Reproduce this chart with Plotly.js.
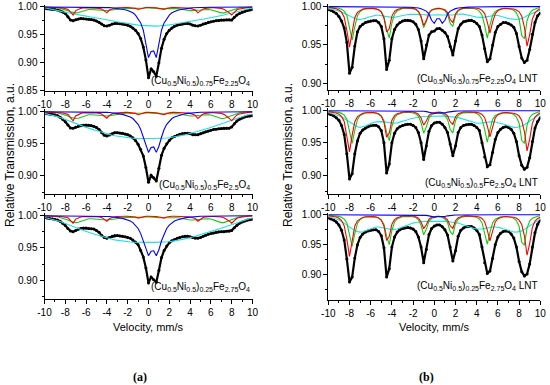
<!DOCTYPE html>
<html><head><meta charset="utf-8">
<script src="https://cdn.plot.ly/plotly-3.0.1.min.js"></script>
<style>html,body{margin:0;padding:0;background:#fff}#chart{width:550px;height:385px}</style>
</head><body><div id="chart"></div>
<script>
// Velocity grid, mm/s
const vel = [-10,-9.75,-9.5,-9.25,-9,-8.75,-8.5,-8.25,
-8,-7.75,-7.5,-7.25,-7,-6.75,-6.5,-6.25,
-6,-5.75,-5.5,-5.25,-5,-4.75,-4.5,-4.25,
-4,-3.75,-3.5,-3.25,-3,-2.75,-2.5,-2.25,
-2,-1.75,-1.5,-1.25,-1,-0.75,-0.5,-0.25,
0,0.25,0.5,0.75,1,1.25,1.5,1.75,
2,2.25,2.5,2.75,3,3.25,3.5,3.75,
4,4.25,4.5,4.75,5,5.25,5.5,5.75,
6,6.25,6.5,6.75,7,7.25,7.5,7.75,
8,8.25,8.5,8.75,9,9.25,9.5,9.75,10];

const xTickVals = [-10,-8,-6,-4,-2,0,2,4,6,8,10];
const xTickText = ['-10','-8','-6','-4','-2','0','2','4','6','8','10'];

// ---------- (a) room temperature ----------
const a1Black = [0.997,0.9965,0.996,0.9955,0.995,0.994,0.9925,0.9905,
0.988,0.982,0.976,0.975,0.9765,0.978,0.979,0.9785,
0.978,0.9775,0.977,0.976,0.9745,0.972,0.969,0.966,
0.9655,0.967,0.969,0.970,0.970,0.9695,0.969,0.968,
0.967,0.965,0.962,0.958,0.952,0.943,0.928,0.905,
0.873,0.889,0.884,0.876,0.900,0.926,0.942,0.952,
0.958,0.962,0.965,0.967,0.968,0.969,0.970,0.970,
0.969,0.967,0.966,0.9655,0.967,0.969,0.9705,0.972,
0.973,0.974,0.975,0.9755,0.976,0.976,0.9765,0.9765,
0.976,0.981,0.985,0.988,0.990,0.992,0.993,0.994,0.995];
const a1Red = [0.999,0.999,0.999,0.999,0.999,0.9985,0.998,0.9975,
0.997,0.9955,0.9905,0.985,0.993,0.9955,0.997,0.998,
0.998,0.9985,0.9985,0.998,0.9975,0.997,0.996,0.9925,
0.989,0.994,0.9965,0.9975,0.998,0.9985,0.9985,0.9985,
0.9985,0.998,0.9975,0.997,0.995,0.9965,0.998,0.9985,
0.9985,0.9985,0.9985,0.998,0.997,0.996,0.995,0.997,
0.998,0.9985,0.9985,0.9985,0.9985,0.9985,0.998,0.9975,
0.997,0.996,0.994,0.989,0.993,0.996,0.997,0.998,
0.998,0.998,0.998,0.9975,0.997,0.9955,0.993,0.9895,
0.985,0.9905,0.9945,0.996,0.997,0.998,0.9985,0.999,0.999];
const a1Green = [0.9995,0.9995,0.999,0.999,0.9985,0.998,0.997,0.996,
0.9945,0.993,0.991,0.9895,0.989,0.9895,0.991,0.993,
0.9945,0.995,0.995,0.9945,0.994,0.9935,0.993,0.993,
0.993,0.9935,0.994,0.995,0.996,0.9965,0.997,0.997,
0.9975,0.997,0.997,0.9965,0.9965,0.997,0.9975,0.998,
0.998,0.998,0.9975,0.997,0.9965,0.9965,0.9965,0.997,
0.9975,0.9975,0.997,0.9965,0.996,0.995,0.994,0.9935,
0.993,0.993,0.993,0.9935,0.994,0.9945,0.995,0.995,
0.9945,0.993,0.991,0.9895,0.989,0.989,0.9905,0.9925,
0.9945,0.996,0.997,0.998,0.9985,0.999,0.9993,0.9995,0.9995];
const a1Blue = [0.9995,0.9995,0.9995,0.9995,0.9995,0.9995,0.9995,0.9995,
0.9994,0.9994,0.9994,0.9993,0.9993,0.9993,0.9992,0.9992,
0.9991,0.9991,0.999,0.999,0.999,0.9989,0.9988,0.9987,
0.9985,0.9983,0.998,0.9975,0.997,0.9963,0.9955,0.9945,
0.993,0.9915,0.989,0.985,0.979,0.971,0.958,0.935,
0.909,0.920,0.921,0.909,0.935,0.958,0.971,0.979,
0.985,0.989,0.9915,0.993,0.9945,0.9955,0.9963,0.997,
0.9975,0.998,0.9983,0.9985,0.9987,0.9988,0.9989,0.999,
0.999,0.999,0.9991,0.9991,0.9992,0.9992,0.9993,0.9993,
0.9993,0.9994,0.9994,0.9994,0.9995,0.9995,0.9995,0.9995,0.9995];
const a1Cyan = [0.998,0.9972,0.9963,0.9954,0.9945,0.9933,0.9921,0.991,
0.99,0.9891,0.9882,0.9873,0.9865,0.9856,0.9847,0.9838,
0.983,0.9822,0.9815,0.9808,0.98,0.9793,0.9785,0.9778,
0.977,0.976,0.975,0.974,0.973,0.9721,0.9712,0.9703,
0.9695,0.9688,0.9682,0.9676,0.967,0.9666,0.9662,0.9658,
0.9655,0.9653,0.9652,0.9652,0.9655,0.9658,0.9662,0.9668,
0.9675,0.9683,0.9692,0.9701,0.971,0.9719,0.9728,0.9737,
0.9745,0.9751,0.9757,0.9763,0.977,0.9777,0.9785,0.9792,
0.98,0.981,0.982,0.983,0.984,0.9852,0.9865,0.9877,
0.989,0.9902,0.9915,0.9927,0.994,0.995,0.996,0.9967,0.997];

const a2Black = [0.997,0.9965,0.996,0.9955,0.995,0.9935,0.991,0.988,
0.984,0.979,0.9745,0.974,0.9755,0.977,0.978,0.9785,
0.979,0.9785,0.978,0.977,0.975,0.972,0.967,0.963,
0.962,0.9635,0.9655,0.967,0.967,0.9665,0.966,0.965,
0.964,0.962,0.959,0.955,0.949,0.941,0.931,0.913,
0.890,0.901,0.897,0.892,0.912,0.932,0.943,0.950,
0.955,0.959,0.961,0.963,0.9645,0.9655,0.966,0.966,
0.9655,0.964,0.9637,0.964,0.9655,0.967,0.9685,0.9695,
0.971,0.972,0.9725,0.973,0.9735,0.974,0.974,0.974,
0.976,0.981,0.985,0.988,0.990,0.9915,0.9925,0.993,0.9935];
const a2Red = [0.999,0.999,0.999,0.999,0.999,0.9985,0.998,0.9975,
0.997,0.9955,0.9905,0.9855,0.993,0.9955,0.997,0.998,
0.998,0.9985,0.9985,0.998,0.9975,0.997,0.996,0.9925,
0.9895,0.994,0.9965,0.9975,0.998,0.9985,0.9985,0.9985,
0.9985,0.998,0.9975,0.997,0.995,0.9965,0.998,0.9985,
0.9985,0.9985,0.9985,0.998,0.997,0.996,0.995,0.997,
0.998,0.9985,0.9985,0.9985,0.9985,0.9985,0.998,0.9975,
0.997,0.996,0.994,0.989,0.993,0.996,0.997,0.998,
0.998,0.998,0.998,0.9975,0.997,0.9955,0.993,0.9895,
0.9855,0.9905,0.9945,0.996,0.997,0.998,0.9985,0.999,0.999];
const a2Green = [0.9995,0.9995,0.999,0.999,0.9985,0.998,0.997,0.996,
0.9945,0.993,0.991,0.9895,0.989,0.9895,0.991,0.993,
0.9945,0.995,0.995,0.9945,0.994,0.9935,0.993,0.993,
0.993,0.9935,0.994,0.995,0.996,0.9965,0.997,0.997,
0.9975,0.997,0.997,0.9965,0.9965,0.997,0.9975,0.998,
0.998,0.998,0.9975,0.997,0.9965,0.9965,0.9965,0.997,
0.9975,0.9975,0.997,0.9965,0.996,0.995,0.994,0.9935,
0.993,0.993,0.993,0.9935,0.994,0.9945,0.995,0.995,
0.9945,0.993,0.991,0.9895,0.989,0.989,0.9905,0.9925,
0.9945,0.996,0.997,0.998,0.9985,0.999,0.9993,0.9995,0.9995];
const a2Blue = [0.9995,0.9995,0.9995,0.9995,0.9995,0.9995,0.9995,0.9995,
0.9994,0.9994,0.9994,0.9993,0.9993,0.9993,0.9992,0.9992,
0.9991,0.9991,0.999,0.999,0.999,0.9989,0.9988,0.9987,
0.9985,0.9983,0.998,0.9975,0.997,0.9963,0.9955,0.9945,
0.993,0.9915,0.989,0.985,0.980,0.972,0.960,0.946,
0.9365,0.944,0.945,0.9365,0.946,0.960,0.972,0.980,
0.985,0.989,0.9915,0.993,0.9945,0.9955,0.9963,0.997,
0.9975,0.998,0.9983,0.9985,0.9987,0.9988,0.9989,0.999,
0.999,0.999,0.9991,0.9991,0.9992,0.9992,0.9993,0.9993,
0.9993,0.9994,0.9994,0.9994,0.9995,0.9995,0.9995,0.9995,0.9995];
const a2Cyan = [0.997,0.9962,0.9953,0.9943,0.9932,0.992,0.9907,0.9893,
0.9879,0.9864,0.9849,0.9834,0.9818,0.9801,0.9784,0.9767,
0.9751,0.9737,0.9725,0.9714,0.9703,0.969,0.9677,0.9664,
0.9651,0.9641,0.9632,0.9624,0.9617,0.961,0.9603,0.9597,
0.9591,0.9587,0.9584,0.9582,0.958,0.958,0.958,0.958,
0.958,0.958,0.958,0.958,0.958,0.958,0.9583,0.9587,
0.9592,0.9598,0.9605,0.9612,0.962,0.9628,0.9637,0.9647,
0.9657,0.9668,0.968,0.9692,0.9704,0.9716,0.9728,0.974,
0.9752,0.9765,0.9778,0.9792,0.9806,0.9821,0.9836,0.9851,
0.9866,0.988,0.9894,0.9908,0.9921,0.9933,0.9944,0.9954,0.9962];

const a3Black = [0.9965,0.996,0.9955,0.995,0.994,0.993,0.991,0.988,
0.9845,0.980,0.976,0.975,0.977,0.979,0.980,0.9805,
0.9805,0.980,0.9795,0.979,0.977,0.974,0.969,0.966,
0.965,0.966,0.968,0.969,0.969,0.9685,0.968,0.967,
0.966,0.965,0.962,0.959,0.955,0.946,0.936,0.919,
0.896,0.905,0.901,0.897,0.915,0.935,0.946,0.953,
0.958,0.961,0.963,0.965,0.966,0.967,0.968,0.968,
0.967,0.966,0.965,0.965,0.966,0.968,0.9695,0.971,
0.972,0.973,0.974,0.975,0.975,0.975,0.9755,0.9755,
0.977,0.981,0.985,0.988,0.990,0.9915,0.993,0.9935,0.994];
const a3Red = [0.9992,0.9992,0.9992,0.9992,0.9992,0.9988,0.9984,0.998,
0.9976,0.9964,0.9924,0.988,0.9944,0.9964,0.9976,0.9984,
0.9984,0.9988,0.9988,0.9984,0.998,0.9976,0.9968,0.994,
0.9912,0.9952,0.9972,0.998,0.9984,0.9988,0.9988,0.9988,
0.9988,0.9984,0.998,0.9976,0.996,0.9972,0.9984,0.9988,
0.9988,0.9988,0.9988,0.9984,0.9976,0.9968,0.996,0.9976,
0.9984,0.9988,0.9988,0.9988,0.9988,0.9988,0.9984,0.998,
0.9976,0.9968,0.9952,0.9912,0.9944,0.9968,0.9976,0.9984,
0.9984,0.9984,0.9984,0.998,0.9976,0.9964,0.9944,0.9916,
0.988,0.9924,0.9956,0.9968,0.9976,0.9984,0.9988,0.9992,0.9992];
const a3Green = [0.9995,0.9995,0.999,0.999,0.9985,0.998,0.997,0.996,
0.9945,0.993,0.991,0.9895,0.989,0.9895,0.991,0.993,
0.9945,0.995,0.995,0.9945,0.994,0.9935,0.993,0.993,
0.993,0.9935,0.994,0.995,0.996,0.9965,0.997,0.997,
0.9975,0.997,0.997,0.9965,0.9965,0.997,0.9975,0.998,
0.998,0.998,0.9975,0.997,0.9965,0.9965,0.9965,0.997,
0.9975,0.9975,0.997,0.9965,0.996,0.995,0.994,0.9935,
0.993,0.993,0.993,0.9935,0.994,0.9945,0.995,0.995,
0.9945,0.993,0.991,0.9895,0.989,0.989,0.9905,0.9925,
0.9945,0.996,0.997,0.998,0.9985,0.999,0.9993,0.9995,0.9995];
const a3Blue = [0.9995,0.9995,0.9995,0.9995,0.9995,0.9995,0.9995,0.9995,
0.9994,0.9994,0.9994,0.9993,0.9993,0.9993,0.9992,0.9992,
0.9991,0.9991,0.999,0.999,0.999,0.9989,0.9988,0.9987,
0.9985,0.9983,0.998,0.9975,0.997,0.9963,0.9955,0.9945,
0.993,0.9915,0.989,0.985,0.980,0.972,0.961,0.947,
0.938,0.945,0.9456,0.938,0.947,0.961,0.972,0.980,
0.985,0.989,0.9915,0.993,0.9945,0.9955,0.9963,0.997,
0.9975,0.998,0.9983,0.9985,0.9987,0.9988,0.9989,0.999,
0.999,0.999,0.9991,0.9991,0.9992,0.9992,0.9993,0.9993,
0.9993,0.9994,0.9994,0.9994,0.9995,0.9995,0.9995,0.9995,0.9995];
const a3Cyan = [0.997,0.9962,0.9953,0.9943,0.9932,0.992,0.9907,0.9893,
0.9879,0.9864,0.9849,0.9834,0.9818,0.9801,0.9784,0.9767,
0.9751,0.9737,0.9725,0.9714,0.9703,0.969,0.9677,0.9664,
0.9651,0.9641,0.9632,0.9624,0.9617,0.961,0.9603,0.9598,
0.9593,0.959,0.9588,0.9586,0.9585,0.9585,0.9585,0.9585,
0.9585,0.9585,0.9585,0.9585,0.9585,0.9585,0.9587,0.959,
0.9594,0.96,0.9606,0.9613,0.962,0.9628,0.9637,0.9647,
0.9657,0.9668,0.968,0.9692,0.9704,0.9716,0.9728,0.974,
0.9752,0.9765,0.9778,0.9792,0.9806,0.9821,0.9836,0.9851,
0.9866,0.988,0.9894,0.9908,0.9921,0.9933,0.9944,0.9954,0.9962];

// ---------- (b) liquid nitrogen temperature ----------
const b1Black = [0.9957,0.995,0.993,0.991,0.987,0.981,0.972,0.953,
0.913,0.921,0.9485,0.967,0.974,0.977,0.979,0.980,
0.981,0.9815,0.9815,0.979,0.974,0.958,0.918,0.930,
0.958,0.970,0.976,0.979,0.981,0.982,0.982,0.9815,
0.980,0.977,0.970,0.955,0.932,0.950,0.963,0.967,
0.968,0.971,0.9715,0.969,0.966,0.961,0.948,0.937,
0.955,0.971,0.977,0.980,0.981,0.982,0.982,0.9805,
0.978,0.974,0.963,0.945,0.928,0.932,0.950,0.966,
0.974,0.977,0.979,0.979,0.978,0.976,0.973,0.965,
0.948,0.933,0.927,0.930,0.944,0.964,0.979,0.988,0.9915];
const b1Red = [0.9987,0.9984,0.998,0.997,0.9955,0.9926,0.986,0.969,
0.947,0.9687,0.9857,0.9923,0.995,0.9966,0.9973,0.9976,
0.9976,0.9975,0.9969,0.9957,0.9927,0.985,0.967,0.971,
0.9875,0.9935,0.996,0.9974,0.998,0.9982,0.9983,0.9981,
0.9976,0.9965,0.9938,0.9872,0.975,0.982,0.9919,0.9956,
0.997,0.9976,0.9977,0.9971,0.9957,0.992,0.983,0.979,
0.9907,0.9953,0.9971,0.998,0.9983,0.9984,0.9983,0.9981,
0.9977,0.997,0.995,0.9907,0.9797,0.9653,0.9796,0.9905,
0.9947,0.9965,0.9973,0.9976,0.9976,0.9974,0.9967,0.9955,
0.9931,0.9875,0.9732,0.9484,0.9634,0.9836,0.9918,0.9952,0.9969];
const b1Green = [0.9992,0.999,0.9988,0.9983,0.9977,0.9964,0.994,0.9885,
0.9743,0.9562,0.9739,0.988,0.9935,0.9958,0.9969,0.9973,
0.9975,0.9973,0.9967,0.9956,0.993,0.9866,0.9706,0.959,
0.9787,0.99,0.9944,0.9963,0.9973,0.9977,0.9979,0.9977,
0.9972,0.996,0.9931,0.9856,0.9726,0.9803,0.9908,0.9951,
0.9966,0.9971,0.9972,0.9965,0.9945,0.9898,0.978,0.974,
0.9883,0.9941,0.9964,0.9974,0.9978,0.9979,0.9977,0.9973,
0.9962,0.994,0.9888,0.9755,0.9587,0.9754,0.9886,0.9937,
0.9959,0.997,0.9973,0.9974,0.9972,0.9965,0.995,0.9918,
0.9838,0.962,0.958,0.9815,0.9912,0.9952,0.997,0.9979,0.9985];
const b1Blue = [0.9998,0.9998,0.9998,0.9998,0.9998,0.9998,0.9998,0.9998,
0.9998,0.9998,0.9998,0.9998,0.9998,0.9998,0.9998,0.9998,
0.9998,0.9998,0.9998,0.9998,0.9998,0.9998,0.9997,0.9997,
0.9997,0.9997,0.9997,0.9996,0.9995,0.9994,0.9992,0.999,
0.9987,0.9985,0.998,0.997,0.9958,0.994,0.990,0.982,
0.978,0.984,0.984,0.978,0.982,0.990,0.994,0.996,
0.9972,0.998,0.9985,0.9988,0.999,0.9992,0.9994,0.9995,
0.9996,0.9997,0.9997,0.9997,0.9998,0.9998,0.9998,0.9998,
0.9998,0.9998,0.9998,0.9998,0.9998,0.9998,0.9998,0.9998,
0.9998,0.9998,0.9998,0.9998,0.9998,0.9998,0.9998,0.9998,0.9998];
const b1Cyan = [0.997,0.9965,0.996,0.995,0.994,0.9925,0.991,0.989,
0.987,0.9855,0.984,0.983,0.983,0.9835,0.9845,0.986,
0.987,0.988,0.9885,0.9885,0.988,0.9875,0.987,0.986,
0.9858,0.986,0.9868,0.9877,0.9885,0.989,0.9895,0.9898,
0.99,0.99,0.9898,0.9895,0.989,0.9888,0.9888,0.989,
0.9893,0.9895,0.9893,0.989,0.9888,0.9887,0.9888,0.989,
0.9895,0.99,0.9902,0.99,0.9895,0.9888,0.988,0.987,
0.9862,0.9858,0.9858,0.9862,0.987,0.9878,0.9883,0.9885,
0.9882,0.9875,0.9865,0.9853,0.9842,0.9835,0.983,0.983,
0.9835,0.9845,0.986,0.9878,0.9895,0.991,0.9925,0.994,0.995];

const b2Black = [0.995,0.994,0.992,0.989,0.985,0.977,0.963,0.933,
0.894,0.902,0.933,0.953,0.965,0.970,0.973,0.975,
0.9765,0.9775,0.9775,0.975,0.969,0.950,0.903,0.917,
0.950,0.965,0.972,0.975,0.977,0.978,0.979,0.979,
0.977,0.974,0.966,0.950,0.924,0.945,0.968,0.977,
0.981,0.982,0.982,0.979,0.974,0.966,0.948,0.930,
0.945,0.966,0.974,0.977,0.978,0.979,0.979,0.977,
0.974,0.969,0.950,0.928,0.913,0.916,0.935,0.955,
0.966,0.971,0.974,0.975,0.974,0.971,0.965,0.952,
0.930,0.915,0.909,0.912,0.927,0.952,0.973,0.983,0.989];
const b2Red = [0.9984,0.9981,0.9976,0.9964,0.9946,0.991,0.9831,0.9625,
0.936,0.9621,0.9827,0.9907,0.994,0.9959,0.9967,0.9971,
0.9971,0.997,0.9963,0.9948,0.9912,0.982,0.9588,0.9652,
0.985,0.9922,0.9952,0.9969,0.9976,0.9981,0.9985,0.9983,
0.9978,0.9968,0.9944,0.9885,0.9775,0.9838,0.9927,0.996,
0.9971,0.9976,0.9977,0.997,0.9956,0.9918,0.9827,0.9786,
0.9905,0.9952,0.997,0.9978,0.998,0.9981,0.998,0.9978,
0.9973,0.9965,0.9941,0.9891,0.9762,0.9594,0.9761,0.9889,
0.9938,0.9958,0.9967,0.9971,0.9971,0.9969,0.996,0.9946,
0.9917,0.9849,0.9676,0.9376,0.9557,0.9802,0.9901,0.9942,0.9962];
const b2Green = [0.9991,0.9988,0.9986,0.998,0.9973,0.9958,0.993,0.9867,
0.9702,0.9492,0.9697,0.9861,0.9925,0.9951,0.9964,0.9969,
0.9971,0.9969,0.9962,0.995,0.992,0.9847,0.9665,0.9533,
0.9757,0.9886,0.9936,0.9957,0.9968,0.9971,0.9973,0.9971,
0.9964,0.9949,0.9912,0.9816,0.9649,0.9748,0.9882,0.9937,
0.9956,0.9962,0.9963,0.9953,0.9927,0.9864,0.9707,0.9654,
0.9844,0.9922,0.9952,0.9966,0.9972,0.9975,0.9973,0.9968,
0.9955,0.9929,0.9867,0.9708,0.9509,0.9707,0.9864,0.9925,
0.9951,0.9964,0.9967,0.9969,0.9966,0.9958,0.9939,0.9901,
0.9804,0.954,0.9492,0.9776,0.9894,0.9942,0.9964,0.9975,0.9982];
const b2Blue = [0.9999,0.9999,0.9999,0.9999,0.9999,0.9999,0.9999,0.9999,
0.9999,0.9999,0.9999,0.9999,0.9999,0.9999,0.9999,0.9999,
0.9999,0.9999,0.9999,0.9999,0.9999,0.9999,0.9999,0.9999,
0.9999,0.9999,0.9999,0.9999,0.9999,0.9998,0.9998,0.9998,
0.9997,0.9996,0.9995,0.9993,0.999,0.9985,0.9977,0.9965,
0.9955,0.9963,0.9963,0.9955,0.9965,0.9977,0.9985,0.999,
0.9993,0.9995,0.9996,0.9997,0.9998,0.9998,0.9999,0.9999,
0.9999,0.9999,0.9999,0.9999,0.9999,0.9999,0.9999,0.9999,
0.9999,0.9999,0.9999,0.9999,0.9999,0.9999,0.9999,0.9999,
0.9999,0.9999,0.9999,0.9999,0.9999,0.9999,0.9999,0.9999,0.9999];
const b2Cyan = [0.997,0.996,0.995,0.9935,0.992,0.99,0.9875,0.985,
0.982,0.979,0.9765,0.975,0.974,0.9745,0.976,0.978,
0.98,0.9815,0.9825,0.983,0.983,0.9825,0.982,0.981,
0.9805,0.9805,0.981,0.982,0.983,0.9845,0.986,0.9875,
0.9885,0.9895,0.99,0.9905,0.991,0.9912,0.9915,0.9918,
0.992,0.992,0.992,0.9918,0.9915,0.9912,0.991,0.9905,
0.99,0.9892,0.988,0.9868,0.9855,0.984,0.9825,0.9812,
0.9805,0.9805,0.981,0.982,0.9825,0.983,0.983,0.9825,
0.9815,0.9808,0.9795,0.978,0.9765,0.975,0.974,0.9738,
0.9745,0.976,0.978,0.981,0.984,0.9868,0.9895,0.992,0.994];

const b3Black = [0.9945,0.993,0.991,0.988,0.983,0.974,0.958,0.926,
0.888,0.896,0.928,0.950,0.962,0.968,0.971,0.973,
0.974,0.975,0.975,0.972,0.965,0.945,0.896,0.910,
0.946,0.963,0.971,0.975,0.977,0.978,0.9785,0.978,
0.976,0.972,0.963,0.946,0.920,0.942,0.967,0.977,
0.981,0.983,0.983,0.980,0.975,0.966,0.946,0.923,
0.940,0.964,0.974,0.978,0.980,0.9805,0.9805,0.978,
0.974,0.967,0.946,0.920,0.902,0.906,0.927,0.950,
0.963,0.969,0.972,0.973,0.972,0.968,0.961,0.946,
0.922,0.905,0.898,0.901,0.918,0.946,0.970,0.984,0.991];
const b3Red = [0.9983,0.9979,0.9974,0.9961,0.9941,0.9903,0.9817,0.9594,
0.9305,0.959,0.9813,0.9899,0.9934,0.9955,0.9965,0.9969,
0.9969,0.9968,0.9961,0.9946,0.9908,0.9811,0.957,0.9635,
0.9842,0.9918,0.995,0.9969,0.9978,0.9982,0.9984,0.9982,
0.9978,0.9967,0.9942,0.9881,0.9767,0.9833,0.9925,0.9959,
0.997,0.9975,0.9975,0.9968,0.9953,0.9913,0.9815,0.9771,
0.9899,0.9949,0.9968,0.9977,0.998,0.998,0.9979,0.9976,
0.9971,0.9962,0.9937,0.9883,0.9744,0.9563,0.9743,0.988,
0.9933,0.9955,0.9965,0.9969,0.9969,0.9966,0.9957,0.9941,
0.991,0.9836,0.9649,0.9324,0.9521,0.9785,0.9893,0.9937,0.9959];
const b3Green = [0.999,0.9988,0.9985,0.9979,0.9972,0.9956,0.9927,0.9861,
0.9689,0.947,0.9684,0.9855,0.9921,0.9949,0.9962,0.9967,
0.9969,0.9967,0.996,0.9946,0.9915,0.9837,0.9641,0.95,
0.974,0.9878,0.9932,0.9955,0.9967,0.9972,0.9974,0.9972,
0.9966,0.9951,0.9916,0.9824,0.9666,0.976,0.9888,0.994,
0.9958,0.9963,0.9964,0.9955,0.993,0.9869,0.9718,0.9667,
0.985,0.9924,0.9954,0.9967,0.9973,0.9975,0.9973,0.9968,
0.9955,0.9929,0.9867,0.9708,0.9509,0.9707,0.9864,0.9925,
0.9951,0.9964,0.9967,0.9969,0.9966,0.9958,0.9939,0.9901,
0.9804,0.954,0.9492,0.9776,0.9894,0.9942,0.9964,0.9975,0.9982];
const b3Blue = [0.9999,0.9999,0.9999,0.9999,0.9999,0.9999,0.9999,0.9999,
0.9999,0.9999,0.9999,0.9999,0.9999,0.9999,0.9999,0.9999,
0.9999,0.9999,0.9999,0.9999,0.9999,0.9999,0.9999,0.9999,
0.9999,0.9999,0.9999,0.9999,0.9999,0.9999,0.9998,0.9998,
0.9997,0.9996,0.9995,0.9994,0.9992,0.9988,0.9981,0.997,
0.996,0.997,0.997,0.996,0.997,0.9981,0.9988,0.9992,
0.9994,0.9996,0.9997,0.9998,0.9998,0.9999,0.9999,0.9999,
0.9999,0.9999,0.9999,0.9999,0.9999,0.9999,0.9999,0.9999,
0.9999,0.9999,0.9999,0.9999,0.9999,0.9999,0.9999,0.9999,
0.9999,0.9999,0.9999,0.9999,0.9999,0.9999,0.9999,0.9999,0.9999];
const b3Cyan = [0.997,0.996,0.9945,0.993,0.991,0.9885,0.986,0.983,
0.9795,0.976,0.9735,0.9718,0.971,0.9715,0.973,0.975,
0.977,0.9785,0.9795,0.9795,0.979,0.978,0.977,0.976,
0.9755,0.9755,0.9762,0.9775,0.979,0.981,0.983,0.9848,
0.986,0.987,0.9878,0.9883,0.9886,0.9888,0.989,0.9892,
0.9893,0.9893,0.9893,0.9892,0.989,0.9887,0.9883,0.9877,
0.987,0.986,0.9846,0.983,0.9812,0.9795,0.978,0.977,
0.9762,0.976,0.9762,0.977,0.978,0.979,0.9795,0.9795,
0.979,0.978,0.9765,0.975,0.9735,0.972,0.9712,0.971,
0.9715,0.973,0.9755,0.9785,0.9818,0.985,0.988,0.9905,0.9928];

const panelLabels = [
  '(Cu<sub>0.5</sub>Ni<sub>0.5</sub>)<sub>0.75</sub>Fe<sub>2.25</sub>O<sub>4</sub>',
  '(Cu<sub>0.5</sub>Ni<sub>0.5</sub>)<sub>0.5</sub>Fe<sub>2.5</sub>O<sub>4</sub>',
  '(Cu<sub>0.5</sub>Ni<sub>0.5</sub>)<sub>0.25</sub>Fe<sub>2.75</sub>O<sub>4</sub>',
  '(Cu<sub>0.5</sub>Ni<sub>0.5</sub>)<sub>0.75</sub>Fe<sub>2.25</sub>O<sub>4</sub> LNT',
  '(Cu<sub>0.5</sub>Ni<sub>0.5</sub>)<sub>0.5</sub>Fe<sub>2.5</sub>O<sub>4</sub> LNT',
  '(Cu<sub>0.5</sub>Ni<sub>0.5</sub>)<sub>0.25</sub>Fe<sub>2.75</sub>O<sub>4</sub> LNT'
];
const yTitle = 'Relative Transmission, a.u.';
const xTitle = 'Velocity, mm/s';
const columnTags = ['(a)', '(b)'];

// ---------- layout geometry ----------
const W = 550, H = 385;
const panels = [
  {data:[a1Black,a1Cyan,a1Green,a1Red,a1Blue], xd:[44.5,252.5], yd:[5.0,90.7],  yr:[0.85,1.003],  lab:[252,81]},
  {data:[a2Black,a2Cyan,a2Green,a2Red,a2Blue], xd:[44.5,252.5], yd:[109.2,194], yr:[0.8719,1.0035], lab:[252,185]},
  {data:[a3Black,a3Cyan,a3Green,a3Red,a3Blue], xd:[44.5,252.5], yd:[213.2,299.3], yr:[0.8707,1.0035], lab:[252,287]},
  {data:[b1Black,b1Cyan,b1Green,b1Red,b1Blue], xd:[328.3,540.3], yd:[3.8,90],   yr:[0.8913,1.0035], lab:[540,79]},
  {data:[b2Black,b2Cyan,b2Green,b2Red,b2Blue], xd:[328.3,540.3], yd:[108.4,194], yr:[0.8705,1.0035], lab:[540,183]},
  {data:[b3Black,b3Cyan,b3Green,b3Red,b3Blue], xd:[328.3,540.3], yd:[212.6,300], yr:[0.8578,1.0035], lab:[540,286]}
];
const colors = ['#000000','#22e0e0','#11cc11','#ff0000','#0000ff'];
const FONT = 'Liberation Sans, Arial, sans-serif';

const traces = [];
const layout = {
  width: W, height: H, margin:{l:0,r:0,t:0,b:0},
  paper_bgcolor:'#fff', plot_bgcolor:'rgba(0,0,0,0)',
  showlegend:false, font:{family:FONT, size:10, color:'#000'},
  annotations:[]
};
panels.forEach((p, i) => {
  const n = i + 1;
  const xa = 'x' + (n === 1 ? '' : n), ya = 'y' + (n === 1 ? '' : n);
  p.data.forEach((arr, k) => {
    const t = {x: vel, y: arr, xaxis: xa, yaxis: ya, type:'scatter', hoverinfo:'skip'};
    if (k === 0) {
      t.mode = 'lines+markers';
      t.line = {color:'#000', width:2.2};
      t.marker = {color:'#000', size:3};
    } else {
      t.mode = 'lines';
      t.line = {color: colors[k], width:1.1};
    }
    traces.push(t);
  });
  layout['xaxis' + (n === 1 ? '' : n)] = {
    domain:[p.xd[0]/W, p.xd[1]/W], anchor: ya, range:[-10,10],
    tickmode:'array', tickvals:xTickVals, ticktext:xTickText,
    ticks:'outside', ticklen:4, tickwidth:1, tickcolor:'#000',
    showline:true, linecolor:'#000', linewidth:1, showgrid:false, zeroline:false,
    minor:{dtick:1, tick0:-10, ticks:'outside', ticklen:2, tickcolor:'#000', showgrid:false},
    tickfont:{family:FONT, size:10, color:'#000'}
  };
  layout['yaxis' + (n === 1 ? '' : n)] = {
    domain:[1 - p.yd[1]/H, 1 - p.yd[0]/H], anchor: xa, range:p.yr,
    tick0:0.85, dtick:0.05, tickformat:'.2f',
    ticks:'outside', ticklen:4, tickwidth:1, tickcolor:'#000',
    showline:true, linecolor:'#000', linewidth:1, showgrid:false, zeroline:false,
    minor:{dtick:0.025, tick0:0.85, ticks:'outside', ticklen:2, tickcolor:'#000', showgrid:false},
    tickfont:{family:FONT, size:10, color:'#000'}
  };
  layout.annotations.push({
    xref:'paper', yref:'paper', x:p.lab[0]/W, y:1 - p.lab[1]/H,
    xanchor:'right', yanchor:'middle', showarrow:false,
    text: panelLabels[i], font:{family:FONT, size:10, color:'#000'}
  });
});
// axis titles (shared per column)
[[10,155],[288,155]].forEach(pos => layout.annotations.push({
  xref:'paper', yref:'paper', x:pos[0]/W, y:1 - pos[1]/H, textangle:-90,
  xanchor:'center', yanchor:'middle', showarrow:false,
  text:yTitle, font:{family:FONT, size:12, color:'#000'}
}));
[[148.5,327],[434.3,327]].forEach(pos => layout.annotations.push({
  xref:'paper', yref:'paper', x:pos[0]/W, y:1 - pos[1]/H,
  xanchor:'center', yanchor:'middle', showarrow:false,
  text:xTitle, font:{family:FONT, size:11, color:'#000'}
}));
[[140,377],[426,377]].forEach((pos, j) => layout.annotations.push({
  xref:'paper', yref:'paper', x:pos[0]/W, y:1 - pos[1]/H,
  xanchor:'center', yanchor:'middle', showarrow:false,
  text:'<b>' + columnTags[j] + '</b>', font:{family:'Liberation Serif, Times New Roman, serif', size:12, color:'#000'}
}));

Plotly.newPlot('chart', traces, layout, {staticPlot:true, displayModeBar:false});
</script>
</body></html>
